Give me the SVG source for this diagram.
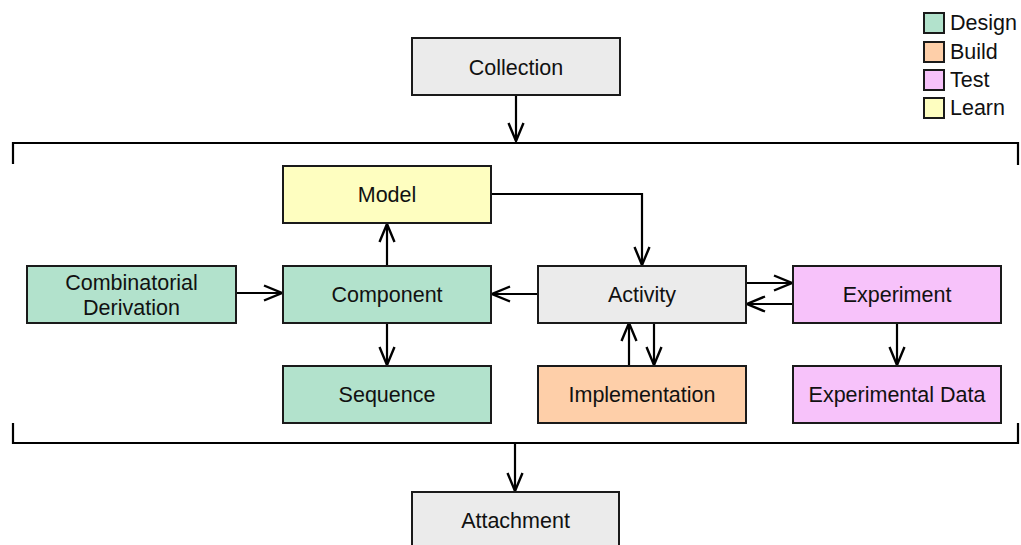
<svg xmlns="http://www.w3.org/2000/svg" width="1021" height="545" viewBox="0 0 1021 545">
<style>
.box{stroke:#1a1a1a;stroke-width:2}
.gray{fill:#ebebeb}.design{fill:#b2e2cc}.build{fill:#fecfa9}.test{fill:#f7c2fa}.learn{fill:#fefec0}
text{font-family:"Liberation Sans",Arial,sans-serif;font-size:21.5px;fill:#111;text-anchor:middle}
.leg{text-anchor:start}
.ln{fill:none;stroke:#000;stroke-width:2.2}
.arr{marker-end:url(#ah)}
</style>
<defs>
<marker id="ah" markerUnits="userSpaceOnUse" viewBox="-20 -10 22 20" refX="0" refY="0" markerWidth="22" markerHeight="20" orient="auto">
<path d="M-18,-7.5 L0,0 L-18,7.5" fill="none" stroke="#000" stroke-width="2.4"/>
</marker>
</defs>
<g id="legend">
<rect class="box design" x="924" y="13" width="20" height="20"/><text class="leg" x="950" y="30">Design</text>
<rect class="box build" x="924" y="42" width="20" height="20"/><text class="leg" x="950" y="59">Build</text>
<rect class="box test" x="924" y="70" width="20" height="20"/><text class="leg" x="950" y="87">Test</text>
<rect class="box learn" x="924" y="98" width="20" height="20"/><text class="leg" x="950" y="115">Learn</text>
</g>
<g id="connectors">
<path class="ln" d="M13,164 V143 H1018 V165"/>
<path class="ln" d="M13,423 V443 H1018 V423"/>
<path class="ln arr" d="M516,95 V141"/>
<path class="ln arr" d="M515,443 V491"/>
<path class="ln arr" d="M491,194 H642 V265"/>
<path class="ln arr" d="M387,266 V224"/>
<path class="ln arr" d="M236,293 H282"/>
<path class="ln arr" d="M538,294 H492"/>
<path class="ln arr" d="M387,323 V365"/>
<path class="ln arr" d="M746,283 H792"/>
<path class="ln arr" d="M793,304 H747"/>
<path class="ln arr" d="M629,366 V323"/>
<path class="ln arr" d="M654,322 V365"/>
<path class="ln arr" d="M897,322 V365"/>
</g>
<g id="collection"><rect class="box gray" x="412" y="38" width="208" height="57"/><text x="516" y="74.5">Collection</text></g>
<g id="model"><rect class="box learn" x="283" y="166" width="208" height="57"/><text x="387" y="202">Model</text></g>
<g id="combinatorial"><rect class="box design" x="27" y="266" width="209" height="57"/><text x="131.5" y="289.5">Combinatorial</text><text x="131.5" y="315">Derivation</text></g>
<g id="component"><rect class="box design" x="283" y="266" width="208" height="57"/><text x="387" y="302">Component</text></g>
<g id="activity"><rect class="box gray" x="538" y="266" width="208" height="57"/><text x="642" y="302">Activity</text></g>
<g id="experiment"><rect class="box test" x="793" y="266" width="208" height="57"/><text x="897" y="302">Experiment</text></g>
<g id="sequence"><rect class="box design" x="283" y="366" width="208" height="57"/><text x="387" y="402">Sequence</text></g>
<g id="implementation"><rect class="box build" x="538" y="366" width="208" height="57"/><text x="642" y="402">Implementation</text></g>
<g id="experimental-data"><rect class="box test" x="793" y="366" width="208" height="57"/><text x="897" y="402">Experimental Data</text></g>
<g id="attachment"><rect class="box gray" x="412" y="492" width="207" height="60"/><text x="515.5" y="528">Attachment</text></g>
</svg>
